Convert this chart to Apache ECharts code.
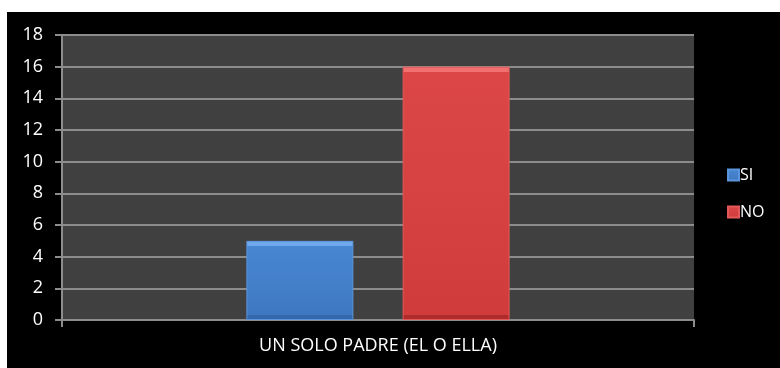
<!DOCTYPE html>
<html>
<head>
<meta charset="utf-8">
<script src="https://cdn.jsdelivr.net/npm/echarts@6/dist/echarts.min.js"></script>
<style>
  html, body { margin: 0; padding: 0; background: #ffffff; }
  #chart { position: absolute; left: 7px; top: 12px; width: 773px; height: 356px; }
</style>
</head>
<body>
<div id="chart"></div>
<script>
// Chart data
const categories = ['UN SOLO PADRE (EL O ELLA)'];
const seriesNames = ['SI', 'NO'];
const siValues = [5];
const noValues = [16];
const yTicks = { min: 0, max: 18, interval: 2 };

const FONT = '"Open Sans", "Liberation Sans", sans-serif';
const PLOT_HEIGHT = 285;   // grid height in px (356 - 23 - 48)

// Bevelled bar fill: thin light band on top, dark band at the bottom
function bevel(value, light, top, bottom, dark) {
  const h = value / yTicks.max * PLOT_HEIGHT;
  const e = 5 / h;
  return new echarts.graphic.LinearGradient(0, 0, 0, 1, [
    { offset: 0, color: light },
    { offset: e, color: light },
    { offset: e + 0.0001, color: top },
    { offset: 1 - e, color: bottom },
    { offset: 1 - e + 0.0001, color: dark },
    { offset: 1, color: dark }
  ]);
}

const chart = echarts.init(document.getElementById('chart'));
chart.setOption({
  backgroundColor: '#000000',
  animation: false,
  grid: {
    left: 55, top: 23, right: 86, bottom: 48,
    show: true, backgroundColor: '#404040', borderWidth: 0
  },
  legend: {
    orient: 'vertical',
    left: 720, top: 155,
    padding: 0,
    itemWidth: 11, itemHeight: 11,
    itemGap: 21,
    icon: 'rect',
    textStyle: { color: '#ffffff', fontSize: 16, fontFamily: FONT, padding: [0, 0, 0, -4] },
    data: seriesNames
  },
  xAxis: {
    type: 'category',
    data: categories,
    axisLine: { lineStyle: { color: '#8c8c8c', width: 2 } },
    axisTick: { show: true, length: 7, lineStyle: { color: '#8c8c8c', width: 2 } },
    axisLabel: { color: '#ffffff', fontSize: 18, fontFamily: FONT, margin: 17 }
  },
  yAxis: {
    type: 'value',
    min: yTicks.min, max: yTicks.max, interval: yTicks.interval,
    axisLine: { show: true, lineStyle: { color: '#8c8c8c', width: 2 } },
    axisTick: { show: true, length: 7, lineStyle: { color: '#8c8c8c', width: 2 } },
    splitLine: { lineStyle: { color: '#8c8c8c', width: 2 } },
    axisLabel: { color: '#ffffff', fontSize: 18, fontFamily: FONT, margin: 19 }
  },
  series: [
    {
      name: seriesNames[0], type: 'bar', data: siValues,
      barWidth: 107, barGap: '46%',
      itemStyle: {
        color: bevel(siValues[0], '#6fa8ec', '#4886d2', '#3f78c2', '#3366aa'),
        borderColor: '#5b95dc', borderWidth: 1
      }
    },
    {
      name: seriesNames[1], type: 'bar', data: noValues,
      barWidth: 107,
      itemStyle: {
        color: bevel(noValues[0], '#f27070', '#dc4646', '#d03c3c', '#b02c2c'),
        borderColor: '#e45858', borderWidth: 1
      }
    }
  ]
});
</script>
</body>
</html>
